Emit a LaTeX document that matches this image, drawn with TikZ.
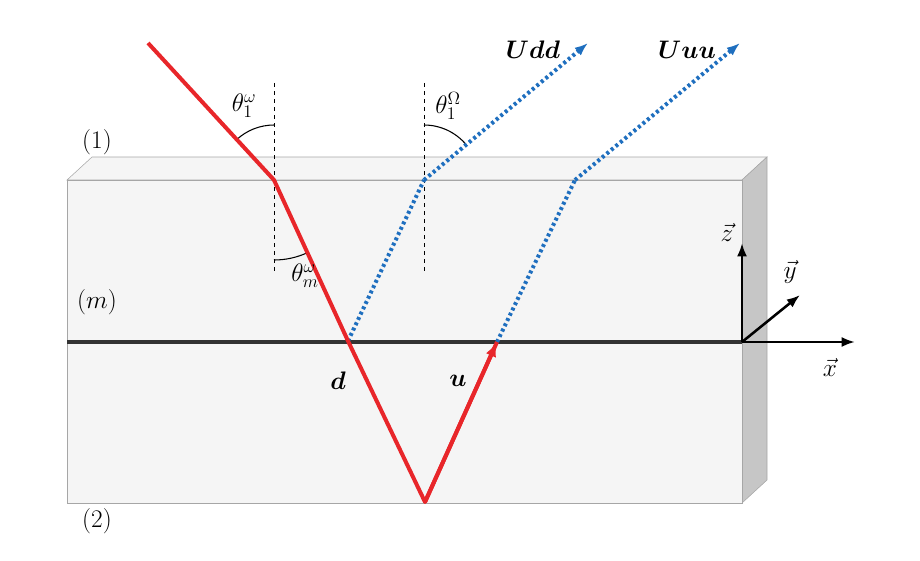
\documentclass[tikz,border=0pt]{standalone}
\usepackage{fix-cm}
\usepackage{amsmath,amssymb,bm}
\usepackage{tikz}
\usetikzlibrary{arrows.meta}
\definecolor{rayred}{HTML}{E8262A}
\definecolor{rayblue}{HTML}{1F6FBF}

\begin{document}
\begin{tikzpicture}[
                x=0.75pt, y=-0.75pt,
                face/.style={draw=gray!70, fill=gray!8},
                side/.style={draw=gray!70, fill=gray!45},
                incident/.style={draw=rayred, line width=3pt},
                emitted/.style={draw=rayblue, line width=3pt, dash pattern=on 2.2pt off 2.2pt},
                normal/.style={dashed, thin},
                axis/.style={-{Latex[length=10pt]}, line width=1.9pt},
                lbl/.style={font=\fontsize{19}{22}\selectfont, inner sep=1pt}
            ]
            \useasboundingbox (0,0) rectangle (920,560);

            % slab
            \draw[face] (67,180) -- (92,157) -- (767,157) -- (742,180) -- cycle;
            \draw[side] (742,180) -- (767,157) -- (767,480) -- (742,503) -- cycle;
            \draw[face] (67,180) rectangle (742,503);
            \draw[gray!40!black, line width=3pt] (67,342) -- (742,342);

            \coordinate (src) at (148,43);
            \coordinate (top) at (274,180);
            \coordinate (d) at (348,341);
            \coordinate (bot) at (425,502);
            \coordinate (u) at (497,342);
            \coordinate (topD) at (424,180);
            \coordinate (topU) at (575,180);
            \coordinate (endD) at (588,43);
            \coordinate (endU) at (740,43);

            \draw[normal] (274,83) -- (274,272);
            \draw[normal] (424,83) -- (424,272);

            \draw[thick] (top) ++(270:55) arc[start angle=270, end angle=227, radius=55];
            \draw[thick] (top) ++(90:80) arc[start angle=90, end angle=65, radius=80];
            \draw[thick] (topD) ++(270:55) arc[start angle=270, end angle=320, radius=55];

            \draw[emitted] (d) -- (topD);
            \draw[emitted, -{Latex[length=10pt]}] (topD) -- (endD);
            \draw[emitted] (u) -- (topU);
            \draw[emitted, -{Latex[length=10pt]}] (topU) -- (endU);

            \draw[incident, line join=round] (src) -- (top) -- (d) -- (bot) -- (u);
            \draw[incident, -{Latex[length=11pt]}] (bot) -- (u);

            \node[lbl] (t1w) at (244,106) {$\theta_1^{\omega}$};
            \node[lbl] (tmw) at (305,276) {$\theta_m^{\omega}$};
            \node[lbl] (t1W) at (448,106) {$\theta_1^{\Omega}$};
            \node[lbl] (lab1) at (97,142) {(1)};
            \node[lbl] (labm) at (97,302) {$(m)$};
            \node[lbl] (lab2) at (97,521) {(2)};
            \node[lbl] (labd) at (338,381) {$\bm{d}$};
            \node[lbl] (labu) at (458,381) {$\bm{u}$};
            \node[lbl] (udd) at (533,50) {$\bm{Udd}$};
            \node[lbl] (uuu) at (687,50) {$\bm{Uuu}$};

            % axes
            \coordinate (O) at (742,342);
            \coordinate (ztip) at (742,243);
            \coordinate (ytip) at (800,295);
            \coordinate (xtip) at (855,342);
            \draw[axis] (O) -- (ztip);
            \draw[axis] (O) -- (ytip);
            \draw[axis] (O) -- (xtip);
            \node[lbl] (zl) at (727,232) {$\vec{z}$};
            \node[lbl] (yl) at (790,272) {$\vec{y}$};
            \node[lbl] (xl) at (830,367) {$\vec{x}$};
        \end{tikzpicture}
\end{document}
